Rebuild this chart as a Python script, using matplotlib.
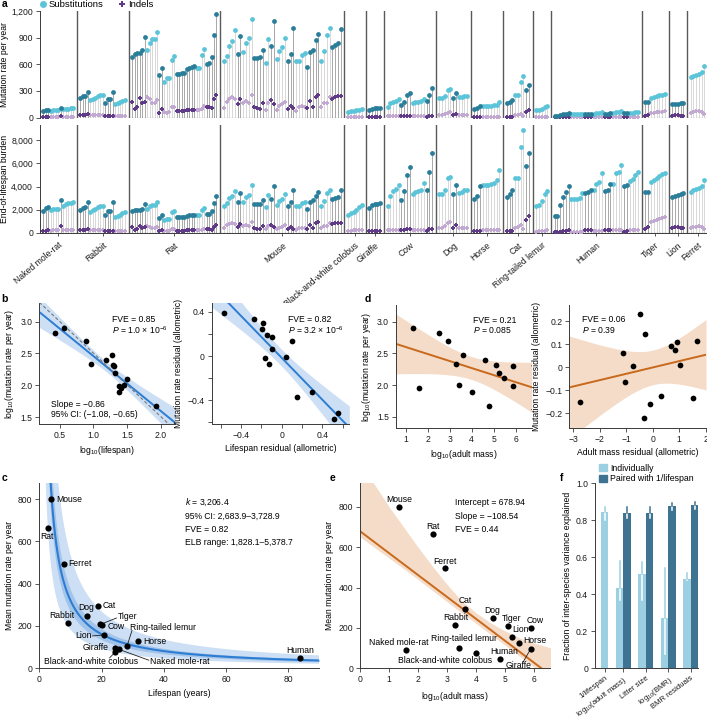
import numpy as np
import matplotlib
matplotlib.use("Agg")
import matplotlib.pyplot as plt
from matplotlib.ticker import FuncFormatter, MultipleLocator
from matplotlib.lines import Line2D
from matplotlib.patches import Patch

plt.rcParams['font.family'] = ['Liberation Sans', 'DejaVu Sans']
plt.rcParams['font.size'] = 6.2
plt.rcParams['mathtext.fontset'] = 'custom'
plt.rcParams['mathtext.rm'] = 'Liberation Sans'
plt.rcParams['mathtext.it'] = 'Liberation Sans:italic'
plt.rcParams['axes.linewidth'] = 0.7
plt.rcParams['axes.edgecolor'] = '#3a3a3a'
for ax_ in ('xtick', 'ytick'):
    plt.rcParams[f'{ax_}.major.size'] = 3
    plt.rcParams[f'{ax_}.minor.size'] = 3
    plt.rcParams[f'{ax_}.major.width'] = 0.6
    plt.rcParams[f'{ax_}.minor.width'] = 0.6
    plt.rcParams[f'{ax_}.color'] = '#3a3a3a'
    plt.rcParams[f'{ax_}.labelcolor'] = '#1a1a1a'
    plt.rcParams[f'{ax_}.major.pad'] = 2
plt.rcParams['axes.labelpad'] = 3

# ---------------- data ----------------
species = ["Naked mole-rat", "Rabbit", "Rat", "Mouse", "Black-and-white colobus",
           "Giraffe", "Cow", "Dog", "Horse", "Cat", "Ring-tailed lemur", "Human",
           "Tiger", "Lion", "Ferret"]
first_dark = [True, True, True, False, False, True, False, False, True, True,
              False, True, True, True, False]

# per-sample rates (per year), grouped by individual
nmr_subs = [[75, 85, 88], [78, 80, 80, 82], [110], [92, 98, 100, 102, 104]]
nmr_indels = [[8, 8, 9], [8, 9, 9, 10], [22], [9, 9, 10, 10, 10]]
rabbit_subs = [[220, 238, 240, 290], [200, 212, 225, 240, 255, 258],
               [168, 205, 208, 290], [148, 158, 172, 185, 195]]
rabbit_indels = [[25, 25, 30, 35], [25, 25, 28, 28, 28, 25],
                 [20, 20, 20, 20], [18, 18, 18, 18, 18]]
rat_subs = [[680, 715, 725, 730, 760, 910], [760, 840, 880, 885, 960], [475, 555],
            [395, 440, 450, 650, 690], [490, 492, 500, 502, 545, 555, 565, 575],
            [555, 560, 705, 770], [600, 610, 680, 930, 1170]]
rat_indels = [[177, 94, 120, 222, 158, 180], [233, 203, 158, 158, 195], [53, 94],
              [60, 56, 64, 113, 113], [75, 75, 75, 78, 90, 90, 83, 85],
              [83, 83, 101, 128], [120, 113, 109, 203, 256]]
mouse_subs = [[635, 696, 805, 865, 985], [718, 921], [733, 835, 891, 1109],
              [673, 673, 684, 760], [613, 880], [801, 1083], [654, 752, 790, 899],
              [639, 714, 1008], [632, 635, 699, 729], [568, 733, 760, 872, 944],
              [635, 744, 929, 1011], [793, 812, 835, 1000]]
mouse_indels = [[109, 177, 203, 233, 211], [147, 214], [165, 184, 158, 252],
                [120, 102, 98, 158], [83, 169], [196, 147], [90, 128, 147, 177],
                [94, 135, 102], [71, 113, 128, 113], [102, 184, 120, 233, 259],
                [120, 165, 158, 226], [203, 226, 241, 244]]
colobus_subs = [[65, 70, 75, 80, 90, 100]]
colobus_indels = [[8, 8, 9, 9, 10, 10]]
giraffe_subs = [[90, 98, 102, 102, 105]]
giraffe_indels = [[8, 8, 8, 8, 8]]
cow_subs = [[113, 158, 177, 188, 203], [139, 177, 248, 278],
            [165, 173, 177, 184, 211], [184, 259, 338]]
cow_indels = [[14, 14, 14, 14, 14], [12, 14, 16, 16], [14, 13, 13, 13, 14], [10, 17, 17]]
dog_subs = [[222, 222, 244, 308, 316], [222, 271], [226, 233, 241, 244]]
dog_indels = [[28, 30, 40, 55, 62], [28, 43], [27, 26, 26, 26]]
horse_subs = [[94, 102, 128], [130, 131, 132, 133, 136, 145, 172]]
horse_indels = [[5, 5, 5], [8, 8, 8, 8, 8, 8, 9]]
cat_subs = [[165, 177, 196], [252, 252, 395, 470], [308, 368]]
cat_indels = [[9, 9, 10], [25, 26, 35, 17], [60, 79]]
lemur_subs = [[83, 85, 98, 120, 128]]
lemur_indels = [[4, 5, 5, 7, 9]]
human_subs = [[17, 17, 29, 37, 42, 48], [35, 35, 35, 36, 41], [41, 42, 44],
              [44, 50, 52, 62], [43, 44, 50], [50, 62, 63, 70], [48, 49],
              [53, 56, 60, 63]]
human_indels = [[1, 1, 1, 2, 2, 3], [1, 1, 1, 1, 1], [3, 3, 3], [2, 2, 2, 2],
                [3, 3, 3], [3, 3, 3, 3], [1, 2], [3, 3, 3, 3]]
tiger_subs = [[178, 178], [222, 232, 243, 250, 258, 265]]
tiger_indels = [[19, 28], [48, 52, 58, 62, 64, 70]]
lion_subs = [[150, 153, 156, 160, 163]]
lion_indels = [[21, 26, 24, 22, 22]]
ferret_subs = [[451, 466, 478, 493, 508, 579]]
ferret_indels = [[56, 60, 68, 72, 62, 40]]

subs_all = [nmr_subs, rabbit_subs, rat_subs, mouse_subs, colobus_subs, giraffe_subs,
            cow_subs, dog_subs, horse_subs, cat_subs, lemur_subs, human_subs,
            tiger_subs, lion_subs, ferret_subs]
indels_all = [nmr_indels, rabbit_indels, rat_indels, mouse_indels, colobus_indels,
              giraffe_indels, cow_indels, dog_indels, horse_indels, cat_indels,
              lemur_indels, human_indels, tiger_indels, lion_indels, ferret_indels]

# species-level values (same order as species)
lifespan = [25.5, 9.15, 2.75, 3.7, 24.4, 24.2, 20.3, 15.3, 31.6, 18.8, 28.2, 83.8,
            19.6, 20.9, 7.9]
mean_rate = [90, 214, 665, 800, 78, 97, 202, 247, 127, 296, 102, 47, 208, 156, 495]
log_mass = [1.57, 3.28, 2.5, 1.33, 4.01, 5.9, 5.88, 4.6, 5.48, 3.61, 3.43, 4.81,
            5.09, 5.25, 2.92]

# allometric residuals
lifespan_resid = [-0.564, -0.272, -0.181, -0.197, -0.141, -0.098, -0.098, 0.098, 0.042,
                  -0.164, -0.125, 0.147, 0.295, 0.557, 0.514]
rate_resid_b = [0.386, 0.338, 0.302, 0.241, 0.190, 0.169, 0.060, 0.139, -0.012,
                -0.021, -0.075, -0.374, -0.329, -0.519, -0.573]
mass_resid = [-2.75, -1.11, -1.04, -0.76, -0.48, -0.29, -0.33, -0.11, 0.31, 0.70,
              0.85, 0.92, 1.03, 1.51, 1.66]
rate_resid_d = [-0.149, 0.064, -0.062, 0.006, 0.230, 0.143, -0.222, -0.160, -0.123,
                0.093, 0.075, 0.111, 0.011, -0.135, 0.114]

# fits as reported
k_est, k_lo, k_hi = 3206.4, 2683.9, 3728.9
elb_lo, elb_hi = 1828.1, 5378.7
e_intercept, e_slope = 678.94, -108.54
e_band_x = [0, 0.5, 1, 1.5, 2, 2.5, 3, 3.5, 4, 4.5, 5, 5.5, 6, 6.6]
e_band_hi = [1010, 910, 800, 700, 600, 505, 415, 335, 275, 225, 185, 150, 125, 100]
e_band_lo = [650, 598, 546, 494, 440, 385, 330, 275, 222, 168, 115, 60, 6, -60]

f_labels = ['1/lifespan', 'log$_{10}$(adult mass)', 'Litter size', 'log$_{10}$(BMR)',
            'BMR residuals']
f_indiv = [0.843, 0.436, 0.508, 0.27, 0.483]
f_indiv_lo = [0.80, 0.369, 0.37, 0.08, 0.477]
f_indiv_hi = [0.874, 0.58, 0.573, 0.54, 0.514]
f_paired = [np.nan, 0.841, 0.841, 0.879, 0.883]
f_paired_lo = [np.nan, 0.81, 0.81, 0.856, 0.86]
f_paired_hi = [np.nan, 0.874, 0.874, 0.892, 0.897]

# ---------------- styles ----------------
SUB_DARK, SUB_LIGHT = '#2b7e9a', '#5cc4d8'
IND_DARK, IND_LIGHT = '#5f3a86', '#c2a9d2'
STEM_DARK, STEM_LIGHT = '#a8a8a8', '#d8d8d8'
SEP = '#5a5a5a'
BLUE, BLUE_BAND, BLUE_BAND2 = '#2d7dd2', '#cddff4', '#a3c4ea'
ORANGE, ORANGE_BAND = '#c8691c', '#f4dcc8'
F_LIGHT, F_DARK = '#9ccfe1', '#3f7392'
GAP = 1.6
# sample spacing per species (the first three are packed tighter in the original)
STEP = [0.89, 0.89, 0.89] + [1.0] * 12

fig = plt.figure(figsize=(7.07, 7.19), dpi=100)


def add_ax(l, t, r, b):
    ax = fig.add_axes([l / 707, 1 - b / 719, (r - l) / 707, (b - t) / 719])
    ax.spines['top'].set_visible(False)
    ax.spines['right'].set_visible(False)
    return ax


def zero_fmt(fmt):
    return FuncFormatter(lambda v, p: '0' if abs(v) < 1e-9 else fmt.format(v).replace('-', '\u2212'))


# sample positions
xpos_all, centers, seps = [], [], []
pos = 0.0
last = None
for si, groups in enumerate(subs_all):
    if si > 0:
        pos = last + 1 + GAP
        seps.append((last + pos) / 2)
    sp = []
    for g in groups:
        row = []
        for _ in g:
            row.append(pos)
            last = pos
            pos += STEP[si]
        sp.append(row)
    xpos_all.append(sp)
    flat = [x for g in sp for x in g]
    centers.append((flat[0] + flat[-1]) / 2)
x_first, x_last = 0.0, last


def lollipop(ax, use_lifespan):
    sx, sy, sc = [], [], []
    pts = {'sd': ([], []), 'sl': ([], []), 'id': ([], []), 'il': ([], [])}
    for si in range(len(species)):
        mult = lifespan[si] if use_lifespan else 1.0
        for gi, (sg, ig, xg) in enumerate(zip(subs_all[si], indels_all[si], xpos_all[si])):
            dark = (gi % 2 == 0) == first_dark[si]
            for s, d, x in zip(sg, ig, xg):
                sx.append(x)
                sy.append(s * mult)
                sc.append(STEM_DARK if dark else STEM_LIGHT)
                key_s = 'sd' if dark else 'sl'
                key_i = 'id' if dark else 'il'
                pts[key_s][0].append(x)
                pts[key_s][1].append(s * mult)
                pts[key_i][0].append(x)
                pts[key_i][1].append(d * mult)
    ax.vlines(sx, 0, sy, colors=sc, lw=0.7, zorder=1)
    ax.scatter(*pts['il'], marker='P', s=8, color=IND_LIGHT, lw=0, zorder=3)
    ax.scatter(*pts['id'], marker='P', s=8, color=IND_DARK, lw=0, zorder=3)
    ax.scatter(*pts['sl'], s=12, color=SUB_LIGHT, lw=0, zorder=4)
    ax.scatter(*pts['sd'], s=12, color=SUB_DARK, lw=0, zorder=4)
    for s in seps:
        ax.axvline(s, color=SEP, lw=1.0, zorder=2)
    ax.axhline(0, color='#555555', lw=0.8, zorder=2)
    ax.set_xlim(x_first - 1.2, x_last + 0.9)
    ax.set_xticks(centers)
    ax.yaxis.set_label_coords(-0.046, 0.5)


# ---------------- panel a ----------------
ax_a1 = add_ax(40, 11, 707, 117.5)
lollipop(ax_a1, False)
ax_a1.set_ylim(0, 1200)
ax_a1.set_yticks([0, 300, 600, 900, 1200])
ax_a1.yaxis.set_major_formatter(FuncFormatter(lambda v, p: f'{v:,.0f}'))
ax_a1.spines['bottom'].set_position(('outward', 8))
ax_a1.spines['bottom'].set_visible(False)
ax_a1.set_xticklabels([])
ax_a1.set_ylabel('Mutation rate per year')
leg_h = [Line2D([], [], marker='o', ls='', color=SUB_LIGHT, ms=5, mew=0),
         Line2D([], [], marker='P', ls='', color=IND_DARK, ms=4.5, mew=0)]
ax_a1.legend(leg_h, ['Substitutions', 'Indels'], loc='lower left', ncol=2,
             bbox_to_anchor=(-0.003, 1.02), frameon=False, handletextpad=0.15,
             columnspacing=1.4, borderaxespad=0, borderpad=0, handlelength=1.0,
             fontsize=6.8)

ax_a2 = add_ax(40, 125, 707, 233)
lollipop(ax_a2, True)
ax_a2.set_ylim(0, 9300)
ax_a2.set_yticks([0, 2000, 4000, 6000, 8000])
ax_a2.yaxis.set_major_formatter(FuncFormatter(lambda v, p: f'{v:,.0f}'))
ax_a2.set_xticklabels(species, rotation=40, ha='right', va='top', rotation_mode='anchor')
ax_a2.tick_params(axis='x', length=2.5, pad=3)
ax_a2.set_ylabel('End-of-lifespan burden')


def ols_band(ax, x, y, xlim, line_c, band_c):
    x = np.asarray(x, float)
    y = np.asarray(y, float)
    n = len(x)
    b, a = np.polyfit(x, y, 1)
    resid = y - (a + b * x)
    s = np.sqrt(np.sum(resid ** 2) / (n - 2))
    xm = x.mean()
    sxx = np.sum((x - xm) ** 2)
    xg = np.linspace(xlim[0], xlim[1], 200)
    yg = a + b * xg
    half = 2.16 * s * np.sqrt(1 / n + (xg - xm) ** 2 / sxx)
    ax.fill_between(xg, yg - half, yg + half, color=band_c, lw=0, zorder=1)
    ax.plot(xg, yg, color=line_c, lw=1.4, zorder=2)
    ax.scatter(x, y, s=17, color='black', lw=0, zorder=4)
    ax.set_xlim(*xlim)


log_life = np.log10(lifespan)
log_rate = np.log10(mean_rate)

# ---------------- panel b ----------------
ax_b1 = add_ax(39.3, 303.3, 175, 424)
ols_band(ax_b1, log_life, log_rate, (0.2, 2.21), BLUE, BLUE_BAND)
xd = np.array([0.2, 2.21])
ax_b1.plot(xd, np.log10(k_est) - xd, ls=(0, (3, 2)), color='#777777', lw=0.8, zorder=3)
ax_b1.set_ylim(1.39, 3.29)
ax_b1.set_xticks([0.5, 1.0, 1.5, 2.0])
ax_b1.set_yticks([1.5, 2.0, 2.5, 3.0])
ax_b1.xaxis.set_major_formatter(zero_fmt('{:.1f}'))
ax_b1.yaxis.set_major_formatter(zero_fmt('{:.1f}'))
ax_b1.set_xlabel('log$_{10}$(lifespan)')
ax_b1.set_ylabel('log$_{10}$(mutation rate per year)')
ax_b1.text(1.28, 3.03, 'FVE = 0.85', va='center')
ax_b1.text(1.28, 2.87, '$P$ = 1.0 \u00d7 10$^{\u22126}$', va='center')
ax_b1.text(0.37, 1.70, 'Slope = \u22120.86', va='center')
ax_b1.text(0.37, 1.535, '95% CI: (\u22121.08, \u22120.65)', va='center')

ax_b2 = add_ax(211.7, 303.3, 349.3, 424)
ols_band(ax_b2, lifespan_resid, rate_resid_b, (-0.69, 0.665), BLUE, BLUE_BAND)
ax_b2.set_ylim(-0.615, 0.477)
ax_b2.set_xticks([-0.4, 0, 0.4])
ax_b2.xaxis.set_minor_locator(MultipleLocator(0.2))
ax_b2.set_yticks([-0.4, 0, 0.4])
ax_b2.yaxis.set_minor_locator(MultipleLocator(0.2))
ax_b2.xaxis.set_major_formatter(zero_fmt('{:.1f}'))
ax_b2.yaxis.set_major_formatter(zero_fmt('{:.1f}'))
ax_b2.set_xlabel('Lifespan residual (allometric)')
ax_b2.set_ylabel('Mutation rate residual (allometric)')
ax_b2.text(0.065, 0.326, 'FVE = 0.82', va='center')
ax_b2.text(0.065, 0.235, '$P$ = 3.2 \u00d7 10$^{\u22126}$', va='center')

# ---------------- panel d ----------------
ax_d1 = add_ax(396, 305, 531.7, 428.3)
ols_band(ax_d1, log_mass, log_rate, (0.54, 6.74), ORANGE, ORANGE_BAND)
ax_d1.set_ylim(1.32, 3.26)
ax_d1.set_xticks([1, 2, 3, 4, 5, 6])
ax_d1.set_yticks([1.5, 2.0, 2.5, 3.0])
ax_d1.yaxis.set_major_formatter(zero_fmt('{:.1f}'))
ax_d1.set_xlabel('log$_{10}$(adult mass)')
ax_d1.set_ylabel('log$_{10}$(mutation rate per year)')
ax_d1.text(4.07, 3.016, 'FVE = 0.21', va='center')
ax_d1.text(4.07, 2.86, '$P$ = 0.085', va='center')

ax_d2 = add_ax(569.3, 305, 706, 428.3)
ols_band(ax_d2, mass_resid, rate_resid_d, (-3.15, 2.01), ORANGE, ORANGE_BAND)
ax_d2.set_ylim(-0.265, 0.271)
ax_d2.set_xticks([-3, -2, -1, 0, 1, 2])
ax_d2.set_yticks([-0.2, -0.1, 0, 0.1, 0.2])
ax_d2.xaxis.set_major_formatter(zero_fmt('{:.0f}'))
ax_d2.yaxis.set_major_formatter(zero_fmt('{:.1f}'))
ax_d2.set_xlabel('Adult mass residual (allometric)')
ax_d2.set_ylabel('Mutation rate residual (allometric)')
ax_d2.text(-2.68, 0.209, 'FVE = 0.06', va='center')
ax_d2.text(-2.68, 0.162, '$P$ = 0.39', va='center')

# ---------------- panel c ----------------
ax_c = add_ax(39.3, 483.3, 319.3, 668)
xc = np.linspace(1.5, 90, 400)
ax_c.fill_between(xc, elb_lo / xc, elb_hi / xc, color=BLUE_BAND, lw=0, zorder=1)
ax_c.fill_between(xc, k_lo / xc, k_hi / xc, color=BLUE_BAND2, lw=0, zorder=1)
ax_c.plot(xc, k_est / xc, color=BLUE, lw=1.5, zorder=2)
ax_c.scatter(lifespan, mean_rate, s=20, color='black', lw=0, zorder=4)
ax_c.set_xlim(0, 90)
ax_c.set_ylim(0, 876)
ax_c.set_xticks([0, 20, 40, 60, 80])
ax_c.set_yticks([0, 200, 400, 600, 800])
ax_c.set_xlabel('Lifespan (years)', labelpad=4)
ax_c.set_ylabel('Mean mutation rate per year')
c_text = [(35.5, 30, 'left'), (7.1, 251, 'center'), (2.5, 626, 'center'), (5.6, 800, 'left'),
          (16.7, 30, 'center'), (22.3, 98, 'right'), (21.9, 197, 'left'), (15.1, 285, 'center'),
          (33.4, 124, 'left'), (20.4, 297, 'left'), (29.0, 191, 'left'), (83.8, 82, 'center'),
          (25.2, 243, 'left'), (16.7, 152, 'right'), (9.4, 494, 'left')]
for name, (tx, ty, ha) in zip(species, c_text):
    ax_c.text(tx, ty, name, ha=ha, va='center', zorder=5)
c_leaders = [((25.5, 89), (35.2, 37)), ((24.3, 74), (22.6, 48)), ((20.2, 210), (24.8, 237)),
             ((28.2, 104), (29.8, 178)), ((17.0, 152), (20.3, 156))]
for (x0, y0), (x1, y1) in c_leaders:
    ax_c.plot([x0, x1], [y0, y1], color='#222222', lw=0.6, zorder=3)
c_stats = ['$k$ = 3,206.4', '95% CI: 2,683.9\u20133,728.9', 'FVE = 0.82',
           'ELB range: 1,828.1\u20135,378.7']
for i, t in enumerate(c_stats):
    ax_c.text(46.7, 784 - i * 63, t, va='center')

# ---------------- panel e ----------------
ax_e = add_ax(360, 483.3, 550, 668.3)
ax_e.fill_between(e_band_x, e_band_lo, e_band_hi, color=ORANGE_BAND, lw=0, zorder=1)
xe = np.array([0, 6.6])
ax_e.plot(xe, e_intercept + e_slope * xe, color=ORANGE, lw=1.4, zorder=2)
ax_e.scatter(log_mass, mean_rate, s=20, color='black', lw=0, zorder=4)
ax_e.set_xlim(0, 6.55)
ax_e.set_ylim(0, 916)
ax_e.set_xticks([0, 1, 2, 3, 4, 5, 6])
ax_e.set_yticks([0, 200, 400, 600, 800])
ax_e.set_xlabel('log$_{10}$(adult mass)', labelpad=4)
ax_e.set_ylabel('Mean mutation rate per year')
e_text = [(1.32, 127), (3.3, 252), (2.53, 704), (1.36, 838), (2.93, 41), (5.46, 16),
          (6.03, 239), (4.54, 287), (6.03, 140), (3.63, 335), (3.6, 148), (4.97, 82),
          (5.23, 247), (5.52, 191), (2.94, 531)]
for name, (tx, ty) in zip(species, e_text):
    ax_e.text(tx, ty, name, ha='center', va='center', zorder=5)
ax_e.plot([5.62, 5.88], [30, 95], color='#222222', lw=0.6, zorder=3)
e_stats = ['Intercept = 678.94', 'Slope = \u2212108.54', 'FVE = 0.44']
for i, t in enumerate(e_stats):
    ax_e.text(3.28, 820 - i * 66, t, va='center')

# ---------------- panel f ----------------
ax_f = add_ax(595, 483.3, 698, 668.3)
w = 0.333
xs_f = np.arange(len(f_labels), dtype=float)
x_ind = xs_f - w / 2
x_ind[0] = xs_f[0] + w / 2
x_par = xs_f + w / 2
ax_f.bar(x_ind, f_indiv, width=w, color=F_LIGHT, zorder=1)
ax_f.bar(x_par, f_paired, width=w, color=F_DARK, zorder=1)
bars = list(zip(x_ind, f_indiv, f_indiv_lo, f_indiv_hi, [F_LIGHT] * 5)) + \
    list(zip(x_par, f_paired, f_paired_lo, f_paired_hi, [F_DARK] * 5))
for xb, v, lo, hi, c in bars:
    if np.isnan(v):
        continue
    ax_f.plot([xb, xb], [lo, min(v, hi)], color='white', lw=1.1, zorder=2)
    if hi > v:
        ax_f.plot([xb, xb], [v, hi], color=c, lw=1.1, zorder=2)
ax_f.set_xlim(-0.26, 4.32)
ax_f.set_ylim(0, 1.0)
ax_f.set_yticks([0, 0.2, 0.4, 0.6, 0.8, 1.0])
ax_f.yaxis.set_major_formatter(zero_fmt('{:.1f}'))
ax_f.set_xticks([x_ind[0], 1, 2, 3, 4])
ax_f.set_xticklabels(f_labels, rotation=37, ha='right', va='top', rotation_mode='anchor',
                     fontsize=5.6)
ax_f.tick_params(axis='x', pad=1.5)
ax_f.set_ylabel('Fraction of inter-species variance explained')
ax_f.legend([Patch(color=F_LIGHT), Patch(color=F_DARK)],
            ['Individually', 'Paired with 1/lifespan'], loc='lower left',
            bbox_to_anchor=(0.04, 1.0), frameon=False, handlelength=0.9, handleheight=0.9,
            handletextpad=0.4, labelspacing=0.2, borderpad=0, borderaxespad=0, fontsize=6.3)

# panel letters
for lab, fx, fy in [('a', 0.002, 0.9896), ('b', 0.002, 0.58), ('d', 0.516, 0.58),
                    ('c', 0.002, 0.3317), ('e', 0.4668, 0.3317), ('f', 0.792, 0.331)]:
    fig.text(fx, fy, lab, fontsize=7.5, fontweight='bold', va='baseline')

fig.savefig('out.png', dpi=100)
